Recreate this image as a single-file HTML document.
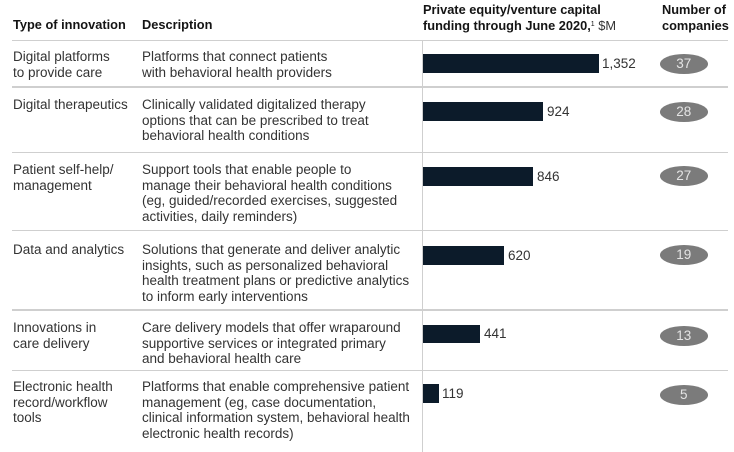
<!DOCTYPE html>
<html>
<head>
<meta charset="utf-8">
<style>
  html,body{margin:0;padding:0;background:#fff;}
  body{width:734px;height:452px;position:relative;overflow:hidden;font-family:"Liberation Sans",Arial,sans-serif;}
  .t{position:absolute;white-space:nowrap;font-size:13.5px;line-height:15.7px;color:#333;}
  .h{position:absolute;white-space:nowrap;font-size:12.8px;line-height:15.5px;font-weight:bold;color:#141414;}
  .hl{position:absolute;left:12px;width:716px;height:1.5px;background:#cfcfcf;}
  .vl{position:absolute;left:422px;top:40px;width:1.2px;height:412px;background:#cfcfcf;}
  .bar{position:absolute;left:423px;height:18.5px;background:#0c1b2a;}
  .val{position:absolute;font-size:13.5px;line-height:16px;color:#333;white-space:nowrap;}
  .el{position:absolute;left:659.5px;width:48.5px;height:20px;border-radius:50%;background:#7b7b7b;color:#e4e4e4;font-size:13.5px;line-height:20px;text-align:center;}
  sup{font-size:7px;vertical-align:top;position:relative;top:-1px;font-weight:normal;}
</style>
</head>
<body>
  <div class="h" style="left:13px;top:17px;">Type of innovation</div>
  <div class="h" style="left:142px;top:17px;">Description</div>
  <div class="h" style="left:423px;top:2px;">Private equity/venture capital<br>funding through June 2020,<sup>1</sup><span style="font-weight:normal;color:#333;"> $M</span></div>
  <div class="h" style="left:662px;top:2px;">Number of<br>companies</div>

  <div class="hl" style="top:39.5px;"></div>
  <div class="hl" style="top:86px;"></div>
  <div class="hl" style="top:151.5px;"></div>
  <div class="hl" style="top:229.5px;"></div>
  <div class="hl" style="top:309px;"></div>
  <div class="hl" style="top:369.5px;"></div>
  <div class="vl"></div>

  <div class="t" style="left:13px;top:49px;">Digital platforms<br>to provide care</div>
  <div class="t" style="left:142px;top:49px;">Platforms that connect patients<br>with behavioral health providers</div>
  <div class="bar" style="top:54px;width:176px;"></div>
  <div class="val" style="left:602px;top:55.5px;">1,352</div>
  <div class="el" style="top:53.5px;">37</div>

  <div class="t" style="left:13px;top:97px;">Digital therapeutics</div>
  <div class="t" style="left:142px;top:97px;">Clinically validated digitalized therapy<br>options that can be prescribed to treat<br>behavioral health conditions</div>
  <div class="bar" style="top:102px;width:120px;"></div>
  <div class="val" style="left:547px;top:103.5px;">924</div>
  <div class="el" style="top:101.5px;">28</div>

  <div class="t" style="left:13px;top:162px;">Patient self-help/<br>management</div>
  <div class="t" style="left:142px;top:162px;">Support tools that enable people to<br>manage their behavioral health conditions<br>(eg, guided/recorded exercises, suggested<br>activities, daily reminders)</div>
  <div class="bar" style="top:167px;width:110px;"></div>
  <div class="val" style="left:537px;top:168.5px;">846</div>
  <div class="el" style="top:166px;">27</div>

  <div class="t" style="left:13px;top:242px;">Data and analytics</div>
  <div class="t" style="left:142px;top:242px;">Solutions that generate and deliver analytic<br>insights, such as personalized behavioral<br>health treatment plans or predictive analytics<br>to inform early interventions</div>
  <div class="bar" style="top:246px;width:81px;"></div>
  <div class="val" style="left:508px;top:247.5px;">620</div>
  <div class="el" style="top:244.5px;">19</div>

  <div class="t" style="left:13px;top:320px;">Innovations in<br>care delivery</div>
  <div class="t" style="left:142px;top:320px;">Care delivery models that offer wraparound<br>supportive services or integrated primary<br>and behavioral health care</div>
  <div class="bar" style="top:324.5px;width:57px;"></div>
  <div class="val" style="left:484px;top:326px;">441</div>
  <div class="el" style="top:326px;">13</div>

  <div class="t" style="left:13px;top:379px;">Electronic health<br>record/workflow<br>tools</div>
  <div class="t" style="left:142px;top:379px;">Platforms that enable comprehensive patient<br>management (eg, case documentation,<br>clinical information system, behavioral health<br>electronic health records)</div>
  <div class="bar" style="top:384px;width:15.5px;"></div>
  <div class="val" style="left:442px;top:385.5px;">119</div>
  <div class="el" style="top:385px;">5</div>
</body>
</html>
